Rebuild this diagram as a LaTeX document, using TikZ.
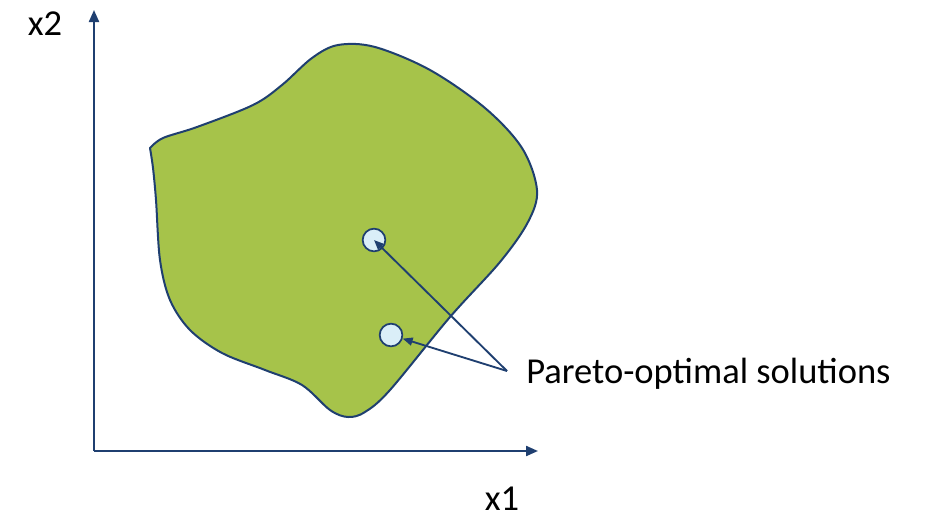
\documentclass[tikz,border=0pt]{standalone}
\usepackage{fontspec}
\setmainfont{Carlito}
\usetikzlibrary{arrows.meta}
\definecolor{lineblue}{RGB}{31,63,112}
\definecolor{blobgreen}{RGB}{166,195,74}
\definecolor{dotblue}{RGB}{218,238,248}
\begin{document}
\begin{tikzpicture}[x=0.75pt,y=-0.75pt,
  axis/.style={draw=lineblue,line width=1.6pt,-{Triangle[length=9pt,width=7.5pt]}},
  pointer/.style={draw=lineblue,line width=1.4pt,-{Triangle[length=7.5pt,width=6pt]}},
  dot/.style={circle,draw=lineblue,line width=1.3pt,fill=dotblue,minimum size=17pt,inner sep=0pt},
  lab/.style={font=\fontsize{27.4}{32}\selectfont,text=black,inner sep=0pt}]
\useasboundingbox (0,0) rectangle (930,518);
\coordinate (origin) at (94,451);
\coordinate (ytip) at (94,10);
\coordinate (xtip) at (538,451);
\draw[axis] (origin) -- (ytip);
\draw[axis] (origin) -- (xtip);
\draw[lineblue,line width=1.5pt,fill=blobgreen,line join=round]
  plot[smooth,tension=0.55] coordinates {(150,148) (163,138) (197,127) (253,105) (282,85) (312,58) (338,45) (375,47) (430,70) (485,108) (522,148) (537,190) (528,222) (500,262) (450,317) (390,390) (365,412) (348,417) (330,410) (302,385) (265,370) (222,353) (190,330) (170,300) (160,260) (156,200) (153,168) (150,148)} -- cycle;
\node[dot] (c1) at (374,240) {};
\node[dot] (c2) at (391,335) {};
\coordinate (src) at (507,371);
\draw[pointer] (src) -- (c1.center);
\draw[pointer] (src) -- (c2);
\node[lab,anchor=west] (pareto) at (526,374) {Pareto-optimal solutions};
\node[lab] (x2) at (45,24) {x2};
\node[lab] (x1) at (502,499) {x1};
\end{tikzpicture}
\end{document}
